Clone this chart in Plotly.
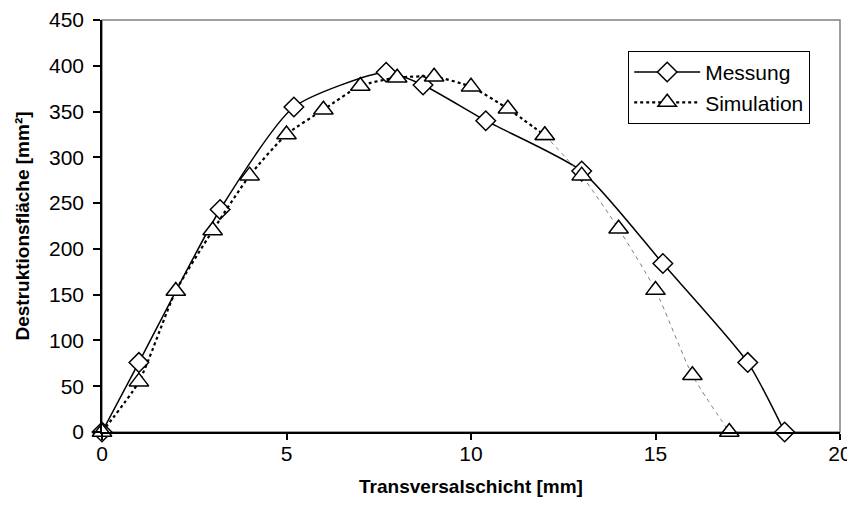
'''
    Line chart: Destruktionsfläche over Transversalschicht, Messung vs Simulation.
'''
import plotly.graph_objects as go

# Messung (measured)
mess_x = [0, 1.0, 3.2, 5.2, 7.7, 8.7, 10.4, 13.0, 15.2, 17.5, 18.5]
mess_y = [0, 76, 243, 355, 393, 379, 340, 285, 184, 76, 0]

# Simulation, first part (dotted) and tail (thin grey dashes)
sim_x = [0, 1, 2, 3, 4, 5, 6, 7, 8, 9, 10, 11, 12]
sim_y = [0, 55, 154, 220, 280, 325, 352, 378, 387, 388, 377, 353, 324]
sim_tail_x = [12, 13, 14, 15, 16, 17]
sim_tail_y = [324, 280, 222, 155, 62, 0]

x_ticks = [0, 5, 10, 15, 20]
y_ticks = [0, 50, 100, 150, 200, 250, 300, 350, 400, 450]

FONT = 'Liberation Sans, Arial, sans-serif'

fig = go.Figure()

fig.add_trace(go.Scatter(
    x=mess_x, y=mess_y, name='Messung',
    mode='lines+markers',
    line=dict(color='black', width=1.5, shape='spline', smoothing=0.6),
    marker=dict(symbol='diamond', size=15, color='white',
                line=dict(color='black', width=1.5)),
    cliponaxis=False,
))

fig.add_trace(go.Scatter(
    x=sim_tail_x, y=sim_tail_y, name='Simulation',
    mode='lines+markers', showlegend=False,
    line=dict(color='#808080', width=1, dash='4px,4px',
              shape='spline', smoothing=0.6),
    marker=dict(symbol='triangle-up', size=17, color='white',
                line=dict(color='black', width=1.5)),
    cliponaxis=False,
))

fig.add_trace(go.Scatter(
    x=sim_x, y=sim_y, name='Simulation',
    mode='lines+markers',
    line=dict(color='black', width=2.2, dash='dot',
              shape='spline', smoothing=0.6),
    marker=dict(symbol='triangle-up', size=17, color='white',
                line=dict(color='black', width=1.5)),
    cliponaxis=False,
))

# grey frame around the plot area (top and right edges)
fig.add_shape(type='rect', xref='paper', yref='paper',
              x0=0, x1=1, y0=0, y1=1, layer='below',
              line=dict(color='#808080', width=1.5))

# page body has an 8px margin, so the figure is a bit smaller than the window
fig.update_layout(
    width=847, height=513,
    margin=dict(l=94, r=15, t=12, b=89),
    paper_bgcolor='white', plot_bgcolor='white',
    font=dict(family=FONT, size=21, color='black'),
    legend=dict(
        x=0.713, y=0.925, xanchor='left', yanchor='top',
        bgcolor='white', bordercolor='black', borderwidth=1,
        font=dict(size=21), tracegroupgap=0, itemwidth=66,
    ),
)

fig.update_xaxes(
    range=[0, 20], tickvals=x_ticks, automargin=False,
    showgrid=False, zeroline=False,
    showline=True, linecolor='black', linewidth=1.5,
    ticks='outside', ticklen=6, tickcolor='black', tickwidth=1.5,
    ticklabelstandoff=-4,
    title=dict(text='<b>Transversalschicht [mm]</b>', standoff=16,
               font=dict(size=19)),
)
fig.update_yaxes(
    range=[0, 450], tickvals=y_ticks, automargin=False,
    showgrid=False, zeroline=False,
    showline=True, linecolor='black', linewidth=1.5,
    ticks='outside', ticklen=7, tickcolor='black', tickwidth=1.5,
    ticklabelstandoff=5,
    title=dict(text='<b>Destruktionsfläche [mm²]</b>', standoff=14,
               font=dict(size=19)),
)

fig.write_html('out.html')
